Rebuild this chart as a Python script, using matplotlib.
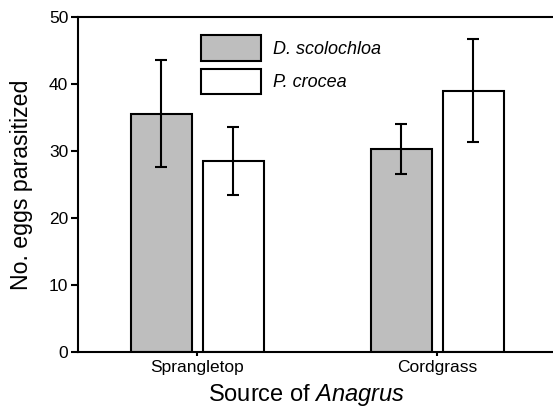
import numpy as np
import matplotlib
matplotlib.use("Agg")
import matplotlib.pyplot as plt
from matplotlib.patches import Patch

plt.rcParams["font.family"] = ["Liberation Sans", "DejaVu Sans"]
plt.rcParams["mathtext.fontset"] = "custom"
plt.rcParams["mathtext.rm"] = "Liberation Sans"
plt.rcParams["mathtext.it"] = "Liberation Sans:italic"

# data
sources = ["Sprangletop", "Cordgrass"]
series = ["D. scolochloa", "P. crocea"]
d_scolochloa = [35.6, 30.3]
d_scolochloa_err = [8.0, 3.7]
p_crocea = [28.5, 39.0]
p_crocea_err = [5.1, 7.7]
colors = ["#bebebe", "white"]

fig = plt.figure(figsize=(5.53, 4.07), dpi=100)
ax = fig.add_axes([0.141, 0.135, 0.859, 0.823])

x = np.arange(len(sources))
w = 0.254
off = 0.15
for vals, errs, c, sgn in [(d_scolochloa, d_scolochloa_err, colors[0], -1),
                           (p_crocea, p_crocea_err, colors[1], 1)]:
    ax.bar(x + sgn * off, vals, width=w, color=c, edgecolor="black", linewidth=1.5,
           yerr=errs, capsize=4.5,
           error_kw=dict(elinewidth=1.5, capthick=1.5, ecolor="black"))

ax.set_xlim(-0.496, 1.483)
ax.set_ylim(0, 50)
ax.set_yticks([0, 10, 20, 30, 40, 50])
ax.set_xticks(x)
ax.set_xticklabels(sources, fontsize=12.5)
ax.tick_params(axis="y", labelsize=12.5, direction="out", length=5, width=1.5, pad=2)
ax.tick_params(axis="x", direction="out", length=3, width=1.5, pad=3)

for s in ["left", "bottom", "top"]:
    ax.spines[s].set_linewidth(1.5)
ax.spines["right"].set_visible(False)

ax.set_ylabel("No. eggs parasitized", fontsize=16.7)
ax.yaxis.set_label_coords(-0.095, 0.5)
ax.set_xlabel("Source of $\\mathit{Anagrus}$", fontsize=17)
ax.xaxis.set_label_coords(0.482, -0.09)

handles = [Patch(facecolor=c, edgecolor="black", linewidth=1.5) for c in colors]
ax.legend(handles, series, loc="upper left", bbox_to_anchor=(0.259, 0.946),
          frameon=False, prop={"style": "italic", "size": 13},
          handlelength=3.33, handleheight=1.8, labelspacing=0.45, handletextpad=0.65,
          borderaxespad=0, borderpad=0)

fig.savefig("out.png", dpi=100)
